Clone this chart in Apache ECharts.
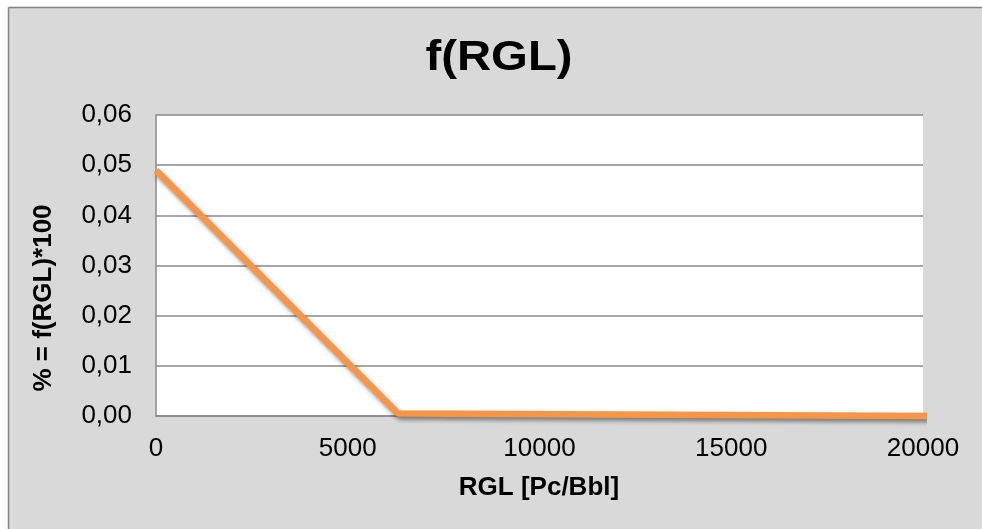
<!DOCTYPE html>
<html>
<head>
<meta charset="utf-8">
<style>html,body{margin:0;padding:0;background:#fff;overflow:hidden;}#c{width:982px;height:529px;}</style>
<script src="https://cdn.jsdelivr.net/npm/echarts@6/dist/echarts.min.js"></script>
</head>
<body>
<div id="c"></div>
<script>
const rglValues = [0, 6310, 20150];
const fValues = [0.049, 0.0005, 0.0];
const chartTitle = 'f(RGL)';
const xAxisTitle = 'RGL [Pc/Bbl]';
const yAxisTitle = '% = f(RGL)*100';

const chart = echarts.init(document.getElementById('c'), null, {renderer: 'canvas'});
const gray = '#8a8a8a';
const font = 'Liberation Sans, Arial, sans-serif';
chart.setOption({
  backgroundColor: '#fff',
  animation: false,
  graphic: [
    {type: 'rect', z: -100, silent: true, shape: {x: 8, y: 7, width: 1000, height: 600},
     style: {fill: '#d9d9d9'}},
    {type: 'line', z: -99, silent: true, shape: {x1: 8.5, y1: 7.5, x2: 1000, y2: 7.5},
     style: {stroke: '#848484', lineWidth: 1.5}},
    {type: 'line', z: -99, silent: true, shape: {x1: 8.5, y1: 7.5, x2: 8.5, y2: 600},
     style: {stroke: '#848484', lineWidth: 1.5}},
    {type: 'text', z: 100, x: 499, y: 58, scaleX: 1.1, scaleY: 1,
     style: {text: chartTitle, font: 'bold 43px ' + font, fill: '#000', textAlign: 'center', textVerticalAlign: 'middle'}},
    {type: 'text', z: 100, x: 539, y: 488,
     style: {text: xAxisTitle, font: 'bold 26px ' + font, fill: '#000', textAlign: 'center', textVerticalAlign: 'middle'}},
    {type: 'text', z: 100, x: 44, y: 298, rotation: Math.PI / 2,
     style: {text: yAxisTitle, font: 'bold 26px ' + font, fill: '#000', textAlign: 'center', textVerticalAlign: 'middle'}}
  ],
  grid: {left: 156, top: 115, right: 59, bottom: 113, show: true, backgroundColor: '#fff', borderWidth: 0, containLabel: false},
  xAxis: {
    type: 'value', min: 0, max: 20000, interval: 5000,
    axisLine: {show: true, lineStyle: {color: gray, width: 1.5}},
    axisTick: {show: false},
    splitLine: {show: false},
    axisLabel: {color: '#000', fontSize: 26, fontFamily: font, margin: 20, formatter: v => String(v)}
  },
  yAxis: {
    type: 'value', min: 0, max: 0.06, interval: 0.01,
    axisLine: {show: true, lineStyle: {color: gray, width: 1.5}},
    axisTick: {show: false},
    splitLine: {show: true, lineStyle: {color: gray, width: 1.5}},
    axisLabel: {color: '#000', fontSize: 26, fontFamily: font, margin: 24,
      formatter: v => v.toFixed(2).replace('.', ',')}
  },
  series: [{
    type: 'line',
    data: rglValues.map((x, i) => [x, fValues[i]]),
    showSymbol: false,
    clip: false,
    lineStyle: {color: '#f79646', width: 6.5, cap: 'butt',
      shadowColor: 'rgba(0,0,0,0.45)', shadowBlur: 4, shadowOffsetX: 2, shadowOffsetY: 3}
  }]
});
</script>
</body>
</html>
